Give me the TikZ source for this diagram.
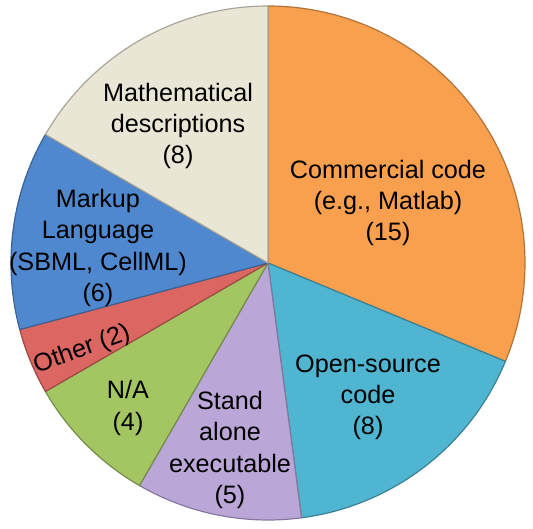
\documentclass[tikz,border=0pt]{standalone}
\usepackage{fontspec}
\setmainfont{Liberation Sans}
\usetikzlibrary{positioning}
\definecolor{tanA}{HTML}{EAE6D6}
\definecolor{orangeA}{HTML}{F9A04E}
\definecolor{aquaA}{HTML}{4FB5D1}
\definecolor{lilacA}{HTML}{BAA7D8}
\definecolor{greenA}{HTML}{A3C562}
\definecolor{redA}{HTML}{DB6662}
\definecolor{blueA}{HTML}{5088CF}

\begin{document}
\begin{tikzpicture}[
  x=0.75pt, y=0.75pt,
  slice/.style={fill=#1, draw=#1!72!black, line width=0.9pt, line join=round},
  lab/.style={align=center, text=black, inner sep=0pt,
              font=\fontsize{18.9}{23.3}\selectfont}
]
  \useasboundingbox (-268,-266) rectangle (265,263);
  \def\R{257}

  % slices, clockwise from the top
  \path[slice=orangeA] (0,0) -- (90:\R)    arc[start angle=90,    end angle=-22.5,  radius=\R] -- cycle;
  \path[slice=aquaA]   (0,0) -- (-22.5:\R) arc[start angle=-22.5, end angle=-82.5,  radius=\R] -- cycle;
  \path[slice=lilacA]  (0,0) -- (-82.5:\R) arc[start angle=-82.5, end angle=-120,   radius=\R] -- cycle;
  \path[slice=greenA]  (0,0) -- (-120:\R)  arc[start angle=-120,  end angle=-150,   radius=\R] -- cycle;
  \path[slice=redA]    (0,0) -- (-150:\R)  arc[start angle=-150,  end angle=-165,   radius=\R] -- cycle;
  \path[slice=blueA]   (0,0) -- (-165:\R)  arc[start angle=-165,  end angle=-210,   radius=\R] -- cycle;
  \path[slice=tanA]    (0,0) -- (150:\R)   arc[start angle=150,   end angle=90,     radius=\R] -- cycle;

  % labels
  \node[lab] (math)  at (-90,137)  {Mathematical\\descriptions\\(8)};
  \node[lab] (comm)  at (120,60)   {Commercial code\\(e.g., Matlab)\\(15)};
  \node[lab] (mark)  at (-170,15)  {Markup\\Language\\(SBML, CellML)\\(6)};
  \node[lab, rotate=20] (other) at (-186,-87) {Other (2)};
  \node[lab] (na)    at (-140,-145) {N/A\\(4)};
  \node[lab] (stand) at (-38,-187) {Stand\\alone\\executable\\(5)};
  \node[lab] (open)  at (100,-134) {Open-source\\code\\(8)};
\end{tikzpicture}
\end{document}
